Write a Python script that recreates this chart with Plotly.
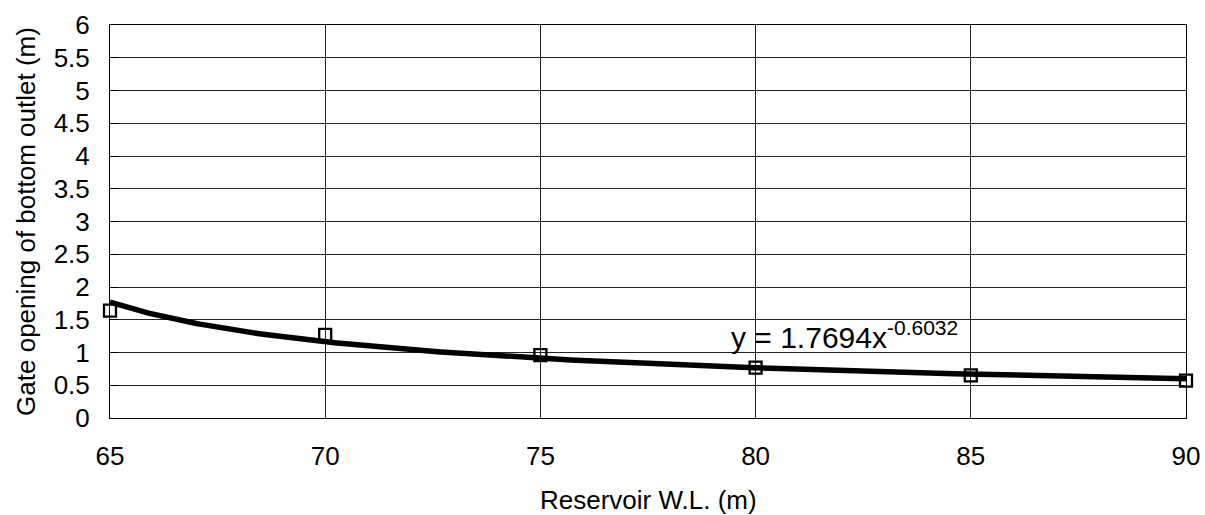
import numpy as np
import plotly.graph_objects as go

# Reservoir water level (m) and measured gate opening of the bottom outlet (m)
water_level = [65, 70, 75, 80, 85, 90]
gate_opening = [1.64, 1.27, 0.96, 0.77, 0.65, 0.57]

# Power trendline fitted against the point index (1..n): y = a * x^b
trend_a = 1.7694
trend_b = -0.6032

y_ticks = [0, 0.5, 1, 1.5, 2, 2.5, 3, 3.5, 4, 4.5, 5, 5.5, 6]
y_tick_text = ["0", "0.5", "1", "1.5", "2", "2.5", "3", "3.5", "4", "4.5", "5", "5.5", "6"]

FONT = "Arial, Liberation Sans, sans-serif"

# Evaluate the trendline on a fine grid of the point index
idx = np.linspace(1, len(water_level), 300)
step = water_level[1] - water_level[0]
trend_x = water_level[0] + (idx - 1) * step
trend_y = trend_a * idx ** trend_b

fig = go.Figure()

fig.add_trace(go.Scatter(
    x=trend_x, y=trend_y, mode="lines",
    line=dict(color="black", width=5.5),
    hoverinfo="skip", showlegend=False,
))

fig.add_trace(go.Scatter(
    x=water_level, y=gate_opening, mode="markers",
    marker=dict(symbol="square-open", size=12, color="black",
                line=dict(color="black", width=2.3)),
    cliponaxis=False, showlegend=False,
))

# Trendline equation
fig.add_annotation(
    x=79.39, y=1.27, xref="x", yref="y",
    text=f"y = {trend_a}x<sup>{trend_b}</sup>",
    showarrow=False, xanchor="left", yanchor="middle",
    font=dict(family=FONT, size=30, color="black"),
)

# X axis title
fig.add_annotation(
    x=0.5, y=-0.208, xref="paper", yref="paper",
    text="Reservoir W.L. (m)", showarrow=False,
    xanchor="center", yanchor="middle",
    font=dict(family=FONT, size=26, color="black"),
)

fig.update_layout(
    width=1205, height=515,
    margin=dict(l=110, r=19, t=25, b=97),
    paper_bgcolor="white", plot_bgcolor="white",
    font=dict(family=FONT, size=26, color="black"),
)

fig.update_xaxes(
    range=[65, 90], tickmode="array", tickvals=water_level,
    ticktext=[str(v) for v in water_level],
    showgrid=True, gridcolor="#222222", gridwidth=1,
    showline=True, linecolor="black", linewidth=1, mirror=True,
    ticks="", ticklabelstandoff=15, automargin=False,
    zeroline=False,
)

fig.update_yaxes(
    range=[0, 6], tickmode="array", tickvals=y_ticks, ticktext=y_tick_text,
    showgrid=True, gridcolor="#222222", gridwidth=1,
    showline=True, linecolor="black", linewidth=1, mirror=True,
    ticks="inside", ticklen=8, tickcolor="black",
    ticklabelstandoff=14, automargin=False,
    zeroline=False,
    title=dict(text="Gate opening of bottom outlet (m)", standoff=10,
               font=dict(family=FONT, size=26, color="black")),
)

fig.write_html("out.html")
